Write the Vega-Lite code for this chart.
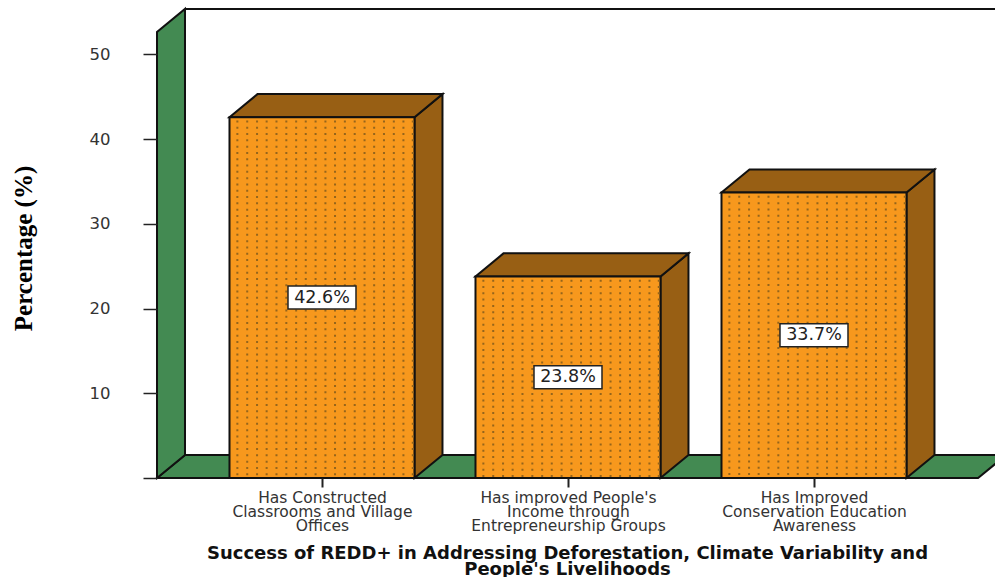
{
  "$schema": "https://vega.github.io/schema/vega-lite/v6.json",
  "width": 838,
  "height": 478,
  "autosize": {"type": "none"},
  "padding": {"left": 157, "top": 0, "right": 0, "bottom": 99},
  "background": "white",
  "datasets": {
    "bars": [
      {"category": "Has Constructed Classrooms and Village Offices", "position": 1, "value": 42.6, "label": "42.6%"},
      {"category": "Has improved People's Income through Entrepreneurship Groups", "position": 2, "value": 23.8, "label": "23.8%"},
      {"category": "Has Improved Conservation Education Awareness", "position": 3, "value": 33.7, "label": "33.7%"}
    ],
    "wall": [
      {"x": 0.3293, "low": 0, "high": 52.66},
      {"x": 0.4431, "low": 2.72, "high": 55.38}
    ],
    "floor": [
      {"x": 0.3293, "low": 0, "high": 0},
      {"x": 0.4431, "low": 0, "high": 2.72},
      {"x": 3.667, "low": 0, "high": 2.72},
      {"x": 3.781, "low": 2.72, "high": 2.72}
    ],
    "backTop": [
      {"x": 0.4431, "y": 55.38},
      {"x": 3.74, "y": 55.38}
    ]
  },
  "config": {"view": {"stroke": null}},
  "encoding": {
    "x": {
      "field": "position",
      "type": "quantitative",
      "scale": {"domain": [0.3293, 3.7358], "nice": false, "zero": false, "padding": 0},
      "axis": {
        "title": ["Success of REDD+ in Addressing Deforestation, Climate Variability and", "People's Livelihoods"],
        "titleFont": "DejaVu Sans",
        "titleFontWeight": "bold",
        "titleFontSize": 18,
        "titleColor": "#111111",
        "titleLineHeight": 16,
        "titleX": 410,
        "titleY": 66,
        "values": [1, 2, 3],
        "labelExpr": "datum.value == 1 ? ['Has Constructed', 'Classrooms and Village', 'Offices'] : datum.value == 2 ? ['Has improved People\\'s', 'Income through', 'Entrepreneurship Groups'] : ['Has Improved', 'Conservation Education', 'Awareness']",
        "labelFont": "DejaVu Sans",
        "labelFontSize": 15.5,
        "labelLineHeight": 14,
        "labelColor": "#333333",
        "labelPadding": 3,
        "labelLimit": 300,
        "labelOverlap": false,
        "labelFlush": false,
        "tickColor": "#222222",
        "tickWidth": 2,
        "tickSize": 9,
        "domain": false,
        "grid": false,
        "zindex": 1
      }
    },
    "y": {
      "type": "quantitative",
      "scale": {"domain": [0, 56.43], "nice": false},
      "axis": {
        "title": "Percentage (%)",
        "titleFont": "Liberation Serif",
        "titleFontWeight": "bold",
        "titleFontSize": 25,
        "titleColor": "#000000",
        "titleX": -121,
        "titleY": 248,
        "values": [0, 10, 20, 30, 40, 50],
        "labelExpr": "datum.value == 0 ? '' : datum.label",
        "labelFont": "DejaVu Sans",
        "labelFontSize": 16.5,
        "labelColor": "#333333",
        "labelPadding": 33,
        "tickColor": "#222222",
        "tickWidth": 1.5,
        "tickSize": 14,
        "domain": false,
        "grid": false,
        "zindex": 1
      }
    }
  },
  "layer": [
    {
      "data": {"name": "backTop"},
      "mark": {"type": "line", "stroke": "#111111", "strokeWidth": 2},
      "encoding": {
        "x": {"field": "x", "type": "quantitative"},
        "y": {"field": "y", "type": "quantitative"}
      }
    },
    {
      "data": {"name": "floor"},
      "mark": {"type": "area", "fill": "#438A52", "stroke": "#111111", "strokeWidth": 2},
      "encoding": {
        "x": {"field": "x", "type": "quantitative"},
        "y": {"field": "low", "type": "quantitative"},
        "y2": {"field": "high"}
      }
    },
    {
      "data": {"name": "wall"},
      "mark": {"type": "area", "fill": "#438A52", "stroke": "#111111", "strokeWidth": 2},
      "encoding": {
        "x": {"field": "x", "type": "quantitative"},
        "y": {"field": "low", "type": "quantitative"},
        "y2": {"field": "high"}
      }
    },
    {
      "data": {"name": "bars"},
      "transform": [
        {"calculate": "[datum.position + 0.376, datum.position + 0.4898]", "as": "sx"},
        {"calculate": "[0, 2.72]", "as": "sLow"},
        {"calculate": "[datum.value, datum.value + 2.72]", "as": "sHigh"},
        {"flatten": ["sx", "sLow", "sHigh"]}
      ],
      "mark": {"type": "area", "fill": "#985F14", "stroke": "#111111", "strokeWidth": 2},
      "encoding": {
        "x": {"field": "sx", "type": "quantitative"},
        "y": {"field": "sLow", "type": "quantitative"},
        "y2": {"field": "sHigh"},
        "detail": {"field": "category"}
      }
    },
    {
      "data": {"name": "bars"},
      "transform": [
        {"calculate": "[datum.position - 0.376, datum.position - 0.2622, datum.position + 0.376, datum.position + 0.4898]", "as": "tx"},
        {"calculate": "[datum.value, datum.value, datum.value, datum.value + 2.72]", "as": "tLow"},
        {"calculate": "[datum.value, datum.value + 2.72, datum.value + 2.72, datum.value + 2.72]", "as": "tHigh"},
        {"flatten": ["tx", "tLow", "tHigh"]}
      ],
      "mark": {"type": "area", "fill": "#985F14", "stroke": "#111111", "strokeWidth": 2},
      "encoding": {
        "x": {"field": "tx", "type": "quantitative"},
        "y": {"field": "tLow", "type": "quantitative"},
        "y2": {"field": "tHigh"},
        "detail": {"field": "category"}
      }
    },
    {
      "data": {"name": "bars"},
      "mark": {"type": "bar", "width": 185, "fill": "#F7981D", "stroke": "#111111", "strokeWidth": 2},
      "encoding": {"y": {"field": "value", "type": "quantitative"}}
    },
    {
      "data": {"name": "bars"},
      "transform": [
        {"calculate": "[-0.344,-0.304,-0.264,-0.225,-0.185,-0.145,-0.105,-0.066,-0.026,0.014,0.053,0.093,0.133,0.173,0.212,0.252,0.292,0.331,0.369]", "as": "column"},
        {"flatten": ["column"]},
        {"calculate": "datum.position + datum.column", "as": "dotX"}
      ],
      "mark": {"type": "rule", "stroke": "#95651C", "strokeWidth": 2, "strokeDash": [2, 4.3], "strokeDashOffset": 3},
      "encoding": {
        "x": {"field": "dotX", "type": "quantitative"},
        "y": {"field": "value", "type": "quantitative"},
        "y2": {"datum": 0}
      }
    },
    {
      "data": {"name": "bars"},
      "transform": [{"calculate": "datum.value / 2", "as": "middle"}],
      "mark": {"type": "rect", "width": 68, "height": 23, "fill": "white", "stroke": "#222222", "strokeWidth": 1.5},
      "encoding": {"y": {"field": "middle", "type": "quantitative"}}
    },
    {
      "data": {"name": "bars"},
      "transform": [{"calculate": "datum.value / 2", "as": "middle"}],
      "mark": {"type": "text", "font": "DejaVu Sans", "fontSize": 17.5, "fill": "#222222", "align": "center", "baseline": "middle"},
      "encoding": {"y": {"field": "middle", "type": "quantitative"}, "text": {"field": "label"}}
    }
  ]
}
